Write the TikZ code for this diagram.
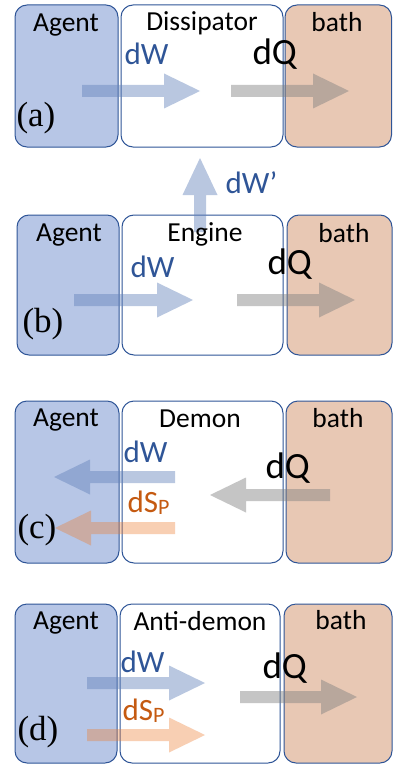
\documentclass[tikz,border=0pt]{standalone}
\usepackage{fontspec}
\setmainfont{Carlito}
\newfontfamily\labelfont{Liberation Serif}
\definecolor{agentfill}{RGB}{183,198,230}
\definecolor{bathfill}{RGB}{232,200,180}
\definecolor{boxline}{RGB}{47,85,151}
\definecolor{workblue}{RGB}{100,131,187}
\definecolor{heatgrey}{RGB}{127,127,127}
\definecolor{entorange}{RGB}{237,125,49}
\definecolor{worktext}{RGB}{47,85,151}
\definecolor{enttext}{RGB}{197,90,17}

\tikzset{every picture/.style={line width=1pt}}
\tikzset{
  agentbox/.style={draw=boxline, fill=agentfill, rounded corners=12},
  midbox/.style={draw=boxline, fill=white, rounded corners=12},
  bathbox/.style={draw=boxline, fill=bathfill, rounded corners=12},
  workarrow/.style={fill=workblue, fill opacity=0.45},
  heatarrow/.style={fill=heatgrey, fill opacity=0.45},
  entarrow/.style={fill=entorange, fill opacity=0.37},
  boxlabel/.style={anchor=base, inner sep=0pt, font=\fontsize{27.5}{27.5}\selectfont},
  worklabel/.style={anchor=base west, inner sep=0pt, text=worktext, font=\fontsize{31}{31}\selectfont},
  entlabel/.style={anchor=base west, inner sep=0pt, text=enttext, font=\fontsize{31}{31}\selectfont},
  heatlabel/.style={anchor=base west, inner sep=0pt, font=\fontsize{37}{37}\selectfont},
  panellabel/.style={anchor=base west, inner sep=0pt, font=\labelfont\fontsize{35}{35}\selectfont}
}
\newcommand{\sP}{\raisebox{-0.2ex}{\fontsize{22}{22}\selectfont P}}

\begin{document}
\begin{tikzpicture}[x=1pt,y=1pt,yscale=-1,xscale=1]
\useasboundingbox (0,0) rectangle (393,765);

%%%% panel (a)
%Shape: Rounded Rect
\draw [agentbox] (15,5) rectangle (118,147);
\draw [midbox] (121,5) rectangle (283,147);
\draw [bathbox] (285,5) rectangle (391.5,147);
%Right Arrow
\fill [workarrow] (82,85) -- (164,85) -- (164,73.5) -- (200,91) -- (164,108.5) -- (164,97) -- (82,97) -- cycle ;
\fill [heatarrow] (231,85) -- (313,85) -- (313,73.5) -- (349,91) -- (313,108.5) -- (313,97) -- (231,97) -- cycle ;
% Text Node
\draw (66,32) node [boxlabel] (agentA) {Agent};
\draw (202,31) node [boxlabel] (dissA) {Dissipator};
\draw (337,32) node [boxlabel] (bathA) {bath};
\draw (124,65) node [worklabel] (dwA) {dW};
\draw (252,65) node [heatlabel] (dqA) {dQ};
\draw (16,127) node [panellabel] (labA) {(a)};

%%%% panel (b)
%Shape: Rounded Rect
\draw [agentbox] (17,215) rectangle (119,355);
\draw [midbox] (122,215) rectangle (283,355);
\draw [bathbox] (287,215) rectangle (392,355);
%Up Arrow
\fill [workarrow] (194,232) -- (194,195) -- (182.5,195) -- (200,158) -- (217.5,195) -- (206,195) -- (206,232) -- cycle ;
%Right Arrow
\fill [workarrow] (74,294) -- (157,294) -- (157,282.5) -- (193,300) -- (157,317.5) -- (157,306) -- (74,306) -- cycle ;
\fill [heatarrow] (237,294) -- (319,294) -- (319,282.5) -- (355,300) -- (319,317.5) -- (319,306) -- (237,306) -- cycle ;
% Text Node
\draw (225,193) node [worklabel] (dwout) {dW’};
\draw (69,241) node [boxlabel] (agentB) {Agent};
\draw (205,241) node [boxlabel] (engB) {Engine};
\draw (344,242) node [boxlabel] (bathB) {bath};
\draw (130,277) node [worklabel] (dwB) {dW};
\draw (267,274) node [heatlabel] (dqB) {dQ};
\draw (22,332) node [panellabel] (labB) {(b)};

%%%% panel (c)
%Shape: Rounded Rect
\draw [agentbox] (15,401) rectangle (119,563);
\draw [midbox] (122,401) rectangle (283,563);
\draw [bathbox] (286,401) rectangle (392,563);
%Left Arrow
\fill [workarrow] (175,471) -- (90,471) -- (90,459.5) -- (54,477) -- (90,494.5) -- (90,483) -- (175,483) -- cycle ;
\fill [entarrow] (175,522) -- (91,522) -- (91,510.5) -- (55,528) -- (91,545.5) -- (91,534) -- (175,534) -- cycle ;
\fill [heatarrow] (330,489) -- (246,489) -- (246,477.5) -- (210,495) -- (246,512.5) -- (246,501) -- (330,501) -- cycle ;
% Text Node
\draw (66,426) node [boxlabel] (agentC) {Agent};
\draw (200,427) node [boxlabel] (demC) {Demon};
\draw (338,427) node [boxlabel] (bathC) {bath};
\draw (123,462) node [worklabel] (dwC) {dW};
\draw (127,512) node [entlabel] (dsC) {dS\sP};
\draw (265,478) node [heatlabel] (dqC) {dQ};
\draw (17,538) node [panellabel] (labC) {(c)};

%%%% panel (d)
%Shape: Rounded Rect
\draw [agentbox] (15,604) rectangle (117,763);
\draw [midbox] (120,604) rectangle (280,763);
\draw [bathbox] (284,604) rectangle (392,763);
%Right Arrow
\fill [workarrow] (87,677) -- (169,677) -- (169,665.5) -- (205,683) -- (169,700.5) -- (169,689) -- (87,689) -- cycle ;
\fill [entarrow] (87,729) -- (169,729) -- (169,717.5) -- (205,735) -- (169,752.5) -- (169,741) -- (87,741) -- cycle ;
\fill [heatarrow] (240,691) -- (321,691) -- (321,679.5) -- (357,697) -- (321,714.5) -- (321,703) -- (240,703) -- cycle ;
% Text Node
\draw (66,629) node [boxlabel] (agentD) {Agent};
\draw (200,630) node [boxlabel] (antiD) {Anti-demon};
\draw (341,629) node [boxlabel] (bathD) {bath};
\draw (120,672) node [worklabel] (dwD) {dW};
\draw (122,720) node [entlabel] (dsD) {dS\sP};
\draw (262,678) node [heatlabel] (dqD) {dQ};
\draw (17,740) node [panellabel] (labD) {(d)};

\end{tikzpicture}
\end{document}
